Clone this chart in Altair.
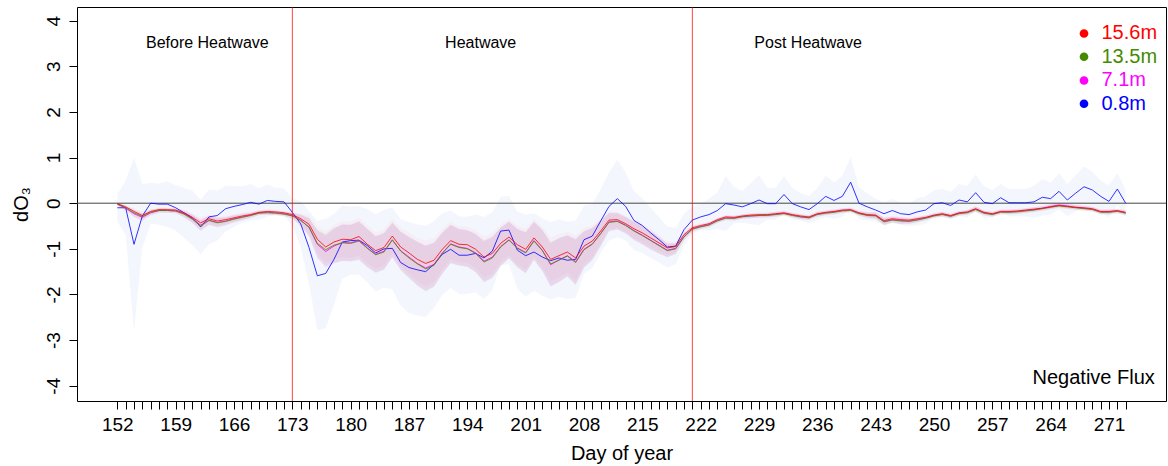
import altair as alt
import pandas as pd

days = list(range(152, 274))

# 15.6m
v156 = [-0.01, -0.08, -0.18, -0.27, -0.18, -0.14, -0.14, -0.15, -0.21, -0.31,
        -0.43, -0.34, -0.39, -0.36, -0.32, -0.28, -0.25, -0.20, -0.18, -0.19,
        -0.21, -0.25, -0.34, -0.46, -0.79, -0.96, -0.85, -0.79, -0.80, -0.73,
        -0.90, -1.04, -0.97, -0.72, -0.96, -1.09, -1.23, -1.32, -1.25, -1.01,
        -0.82, -0.90, -0.91, -1.01, -1.18, -1.10, -0.88, -0.74, -0.91, -1.01,
        -0.76, -0.96, -1.23, -1.15, -1.07, -1.20, -0.94, -0.83, -0.61, -0.37,
        -0.36, -0.45, -0.56, -0.65, -0.76, -0.87, -0.98, -0.95, -0.69, -0.54,
        -0.49, -0.45, -0.36, -0.30, -0.31, -0.28, -0.26, -0.25, -0.25, -0.23,
        -0.21, -0.25, -0.28, -0.30, -0.23, -0.20, -0.18, -0.15, -0.14, -0.21,
        -0.25, -0.26, -0.38, -0.34, -0.36, -0.37, -0.34, -0.31, -0.26, -0.23,
        -0.27, -0.21, -0.19, -0.12, -0.20, -0.23, -0.18, -0.18, -0.17, -0.15,
        -0.13, -0.11, -0.08, -0.05, -0.07, -0.09, -0.10, -0.12, -0.18, -0.18,
        -0.16, -0.20]
# 13.5m
v135 = [-0.02, -0.10, -0.21, -0.29, -0.20, -0.16, -0.16, -0.17, -0.24, -0.35,
        -0.50, -0.38, -0.43, -0.40, -0.35, -0.31, -0.27, -0.22, -0.21, -0.22,
        -0.24, -0.28, -0.38, -0.52, -0.88, -1.02, -0.92, -0.87, -0.88, -0.83,
        -0.99, -1.13, -1.07, -0.80, -1.05, -1.20, -1.33, -1.44, -1.36, -1.10,
        -0.90, -0.97, -1.00, -1.10, -1.29, -1.20, -0.96, -0.81, -0.99, -1.09,
        -0.83, -1.04, -1.33, -1.25, -1.16, -1.30, -1.02, -0.90, -0.67, -0.42,
        -0.40, -0.49, -0.61, -0.71, -0.82, -0.93, -1.04, -1.00, -0.74, -0.57,
        -0.52, -0.48, -0.39, -0.33, -0.33, -0.30, -0.28, -0.27, -0.27, -0.25,
        -0.23, -0.27, -0.30, -0.32, -0.25, -0.22, -0.20, -0.17, -0.16, -0.23,
        -0.27, -0.28, -0.41, -0.37, -0.39, -0.40, -0.37, -0.33, -0.28, -0.25,
        -0.29, -0.23, -0.21, -0.14, -0.22, -0.25, -0.20, -0.20, -0.19, -0.17,
        -0.15, -0.12, -0.09, -0.06, -0.08, -0.10, -0.12, -0.14, -0.20, -0.20,
        -0.18, -0.22]
# 7.1m
v71 = [-0.02, -0.11, -0.23, -0.31, -0.21, -0.16, -0.16, -0.17, -0.23, -0.34,
       -0.48, -0.37, -0.42, -0.39, -0.34, -0.30, -0.26, -0.21, -0.20, -0.21,
       -0.23, -0.27, -0.37, -0.53, -0.90, -1.06, -0.94, -0.86, -0.87, -0.81,
       -0.98, -1.12, -1.05, -0.81, -1.04, -1.18, -1.32, -1.42, -1.34, -1.09,
       -0.89, -0.96, -0.99, -1.09, -1.27, -1.18, -0.95, -0.80, -0.98, -1.08,
       -0.82, -1.03, -1.35, -1.24, -1.15, -1.28, -1.01, -0.89, -0.66, -0.41,
       -0.39, -0.48, -0.60, -0.70, -0.81, -0.92, -1.03, -0.99, -0.73, -0.56,
       -0.51, -0.47, -0.38, -0.32, -0.33, -0.29, -0.28, -0.27, -0.26, -0.24,
       -0.22, -0.26, -0.30, -0.32, -0.24, -0.21, -0.19, -0.16, -0.15, -0.22,
       -0.26, -0.27, -0.40, -0.36, -0.38, -0.39, -0.36, -0.32, -0.27, -0.24,
       -0.28, -0.22, -0.20, -0.13, -0.21, -0.24, -0.19, -0.19, -0.18, -0.16,
       -0.14, -0.11, -0.07, -0.04, -0.06, -0.09, -0.11, -0.13, -0.19, -0.19,
       -0.17, -0.21]
# 0.8m
v08 = [-0.10, -0.10, -0.90, -0.28, 0.00, -0.02, -0.02, -0.10, -0.21, -0.32,
       -0.52, -0.30, -0.27, -0.12, -0.07, -0.03, 0.02, -0.02, 0.06, 0.04,
       0.03, -0.20, -0.45, -0.97, -1.59, -1.54, -1.23, -0.85, -0.82, -0.81,
       -0.93, -1.09, -1.00, -0.99, -1.30, -1.41, -1.46, -1.50, -1.34, -1.12,
       -1.01, -1.14, -1.14, -1.10, -1.20, -1.05, -0.61, -0.59, -1.03, -1.15,
       -1.07, -1.18, -1.26, -1.20, -1.25, -1.23, -0.80, -0.72, -0.39, -0.07,
       0.10, -0.07, -0.38, -0.49, -0.65, -0.80, -0.96, -0.94, -0.58, -0.37,
       -0.30, -0.25, -0.16, -0.01, -0.04, -0.08, -0.01, 0.07, -0.01, -0.01,
       0.19, -0.01, -0.08, -0.14, -0.01, 0.15, 0.06, 0.15, 0.46, 0.00,
       -0.08, -0.15, -0.23, -0.16, -0.23, -0.25, -0.19, -0.15, -0.01, 0.01,
       -0.05, 0.07, 0.03, 0.23, 0.02, -0.01, 0.12, 0.01, 0.01, 0.01,
       0.03, 0.13, 0.10, 0.26, 0.07, 0.22, 0.36, 0.29, 0.15, 0.04,
       0.31, 0.00]

# half-width of the shaded uncertainty bands
spread_deep = [0.03, 0.05, 0.08, 0.08, 0.06, 0.05, 0.05, 0.05, 0.07, 0.09,
               0.12, 0.10, 0.10, 0.09, 0.08, 0.07, 0.06, 0.05, 0.05, 0.05,
               0.05, 0.06, 0.12, 0.20, 0.30, 0.35, 0.38, 0.40, 0.40, 0.42,
               0.42, 0.40, 0.40, 0.38, 0.42, 0.45, 0.48, 0.50, 0.48, 0.45,
               0.42, 0.40, 0.40, 0.42, 0.45, 0.45, 0.42, 0.40, 0.42, 0.45,
               0.42, 0.45, 0.48, 0.48, 0.45, 0.50, 0.40, 0.35, 0.28, 0.20,
               0.18, 0.18, 0.20, 0.20, 0.20, 0.18, 0.15, 0.12, 0.08, 0.06,
               0.05, 0.05, 0.05, 0.05, 0.05, 0.05, 0.05, 0.05, 0.05, 0.05,
               0.05, 0.05, 0.05, 0.05, 0.05, 0.05, 0.05, 0.05, 0.05, 0.05,
               0.06, 0.07, 0.08, 0.07, 0.07, 0.06, 0.06, 0.05, 0.05, 0.05,
               0.05, 0.05, 0.05, 0.06, 0.05, 0.05, 0.05, 0.05, 0.05, 0.05,
               0.05, 0.05, 0.05, 0.05, 0.05, 0.05, 0.05, 0.05, 0.05, 0.05,
               0.05, 0.05]
spread_surface = [0.30, 0.60, 1.90, 0.70, 0.45, 0.45, 0.50, 0.50, 0.55, 0.60,
                  0.60, 0.60, 0.55, 0.50, 0.45, 0.40, 0.40, 0.35, 0.35, 0.30,
                  0.30, 0.30, 0.50, 0.80, 1.20, 1.20, 1.00, 0.80, 0.75, 0.75,
                  0.80, 0.85, 0.85, 0.90, 0.95, 1.00, 1.00, 1.00, 0.95, 0.90,
                  0.85, 0.85, 0.85, 0.85, 0.90, 0.85, 0.75, 0.75, 0.85, 0.90,
                  0.85, 0.85, 0.85, 0.85, 0.85, 0.85, 0.75, 0.70, 0.70, 0.75,
                  0.85, 0.75, 0.65, 0.60, 0.55, 0.50, 0.45, 0.40, 0.35, 0.30,
                  0.30, 0.35, 0.40, 0.60, 0.40, 0.35, 0.45, 0.55, 0.35, 0.35,
                  0.40, 0.35, 0.30, 0.30, 0.35, 0.45, 0.40, 0.45, 0.55, 0.35,
                  0.30, 0.25, 0.25, 0.25, 0.25, 0.25, 0.30, 0.30, 0.30, 0.30,
                  0.30, 0.35, 0.35, 0.40, 0.35, 0.30, 0.30, 0.30, 0.30, 0.30,
                  0.35, 0.40, 0.35, 0.40, 0.35, 0.40, 0.45, 0.40, 0.35, 0.35,
                  0.35, 0.30]

series_names = ["15.6m", "13.5m", "7.1m", "0.8m"]
series_colors = ["#ff0000", "#458b00", "#ff00ff", "#0000ff"]
deep_names = ["15.6m", "13.5m", "7.1m"]
deep_band_colors = ["#ff0000", "#458b00", "#ff00ff"]
deep_band_opacity = [0.03, 0.10, 0.10]
surface_band_color = "#f3f7fd"

# key (legend) placement in data units, top-right corner of the panel
key_symbol_x = 268.0
key_label_x = 270.1
key_row_y = [3.72, 3.21, 2.69, 2.18]

period_breaks = [173, 221]
period_labels = ["Before Heatwave", "Heatwave", "Post Heatwave"]
period_label_x = [162.8, 195.6, 234.9]
period_label_y = [3.51, 3.51, 3.51]
panel_label = ["Negative Flux"]
panel_label_x = [276.5]
panel_label_y = [-3.83]

x_labelled = list(range(152, 274, 7))

for arr in (v156, v135, v71, v08, spread_deep, spread_surface):
    assert len(arr) == len(days), len(arr)

# long table (surface first so the deepest sensor is drawn on top)
series_values = {"0.8m": v08, "7.1m": v71, "13.5m": v135, "15.6m": v156}
series_spread = {"0.8m": spread_surface, "7.1m": spread_deep,
                 "13.5m": spread_deep, "15.6m": spread_deep}
rows = []
for name in ["0.8m", "7.1m", "13.5m", "15.6m"]:
    for d, v, s in zip(days, series_values[name], series_spread[name]):
        rows.append({"day": d, "series": name, "value": v,
                     "lo": v - s, "hi": v + s})
df = pd.DataFrame(rows)

key_df = pd.DataFrame({
    "series": series_names,
    "sx": [key_symbol_x] * len(series_names),
    "lx": [key_label_x] * len(series_names),
    "y": key_row_y,
})

FONT = "Liberation Sans"

x_scale = alt.Scale(domain=[147.16, 277.84], nice=False, zero=False)
y_scale = alt.Scale(domain=[-4.335, 4.30], nice=False, zero=False)
color_scale = alt.Scale(domain=series_names, range=series_colors)

x_axis = alt.Axis(
    values=days, tickCount=400,
    labelExpr="indexof(" + str(x_labelled) + ", datum.value) >= 0 ? '' + datum.value : ''",
    labelOverlap=False, labelFlush=False, tickSize=8, labelPadding=6,
    labelFontSize=19, labelColor="black", tickColor="black",
    title="Day of year", titleFontSize=20, titleFontWeight="normal",
    titleColor="black", titleY=58, titleBaseline="alphabetic",
    grid=False, domain=False)
y_axis = alt.Axis(
    values=list(range(-4, 5)), labelExpr="'' + datum.value",
    labelAngle=-90, labelAlign="center", labelBaseline="alphabetic",
    labelPadding=10, tickSize=8, labelFontSize=19, labelColor="black",
    tickColor="black",
    title="dO₃", titleFontSize=20, titleFontWeight="normal",
    titleColor="black", titleX=-56, titleY=197, titleAngle=270,
    titleAlign="center", titleBaseline="middle",
    grid=False, domain=False)

surface_band = alt.Chart(df).transform_filter(
    "datum.series == '0.8m'").mark_area(
    strokeWidth=0, color=surface_band_color, opacity=1).encode(
    x=alt.X("day:Q", scale=x_scale, axis=x_axis),
    y=alt.Y("lo:Q", scale=y_scale, axis=y_axis),
    y2="hi:Q",
)

deep_bands = alt.Chart(df).transform_filter(
    "datum.series != '0.8m'").mark_area(strokeWidth=0).encode(
    x=alt.X("day:Q", scale=x_scale),
    y=alt.Y("lo:Q", scale=y_scale),
    y2="hi:Q",
    fill=alt.Fill("series:N",
                  scale=alt.Scale(domain=deep_names, range=deep_band_colors),
                  legend=None),
    fillOpacity=alt.FillOpacity("series:N",
                                scale=alt.Scale(domain=deep_names, range=deep_band_opacity),
                                legend=None),
)

zero_line = alt.Chart(pd.DataFrame({"value": [0]})).mark_rule(
    color="#444444", strokeWidth=1).encode(y=alt.Y("value:Q", scale=y_scale))

lines = alt.Chart(df).mark_line(strokeWidth=1, opacity=0.8).encode(
    x=alt.X("day:Q", scale=x_scale),
    y=alt.Y("value:Q", scale=y_scale),
    color=alt.Color("series:N", scale=color_scale, legend=None),
)

breaks = alt.Chart(pd.DataFrame({"day": period_breaks})).mark_rule(
    color="#ff0000", strokeWidth=1, opacity=0.75).encode(
    x=alt.X("day:Q", scale=x_scale))

key_points = alt.Chart(key_df).mark_point(
    filled=True, size=75, opacity=1, shape="circle").encode(
    x=alt.X("sx:Q", scale=x_scale),
    y=alt.Y("y:Q", scale=y_scale),
    color=alt.Color("series:N", scale=color_scale, legend=None),
)
key_labels = alt.Chart(key_df).mark_text(
    fontSize=20, font=FONT, align="left", baseline="middle").encode(
    x=alt.X("lx:Q", scale=x_scale),
    y=alt.Y("y:Q", scale=y_scale),
    text="series:N",
    color=alt.Color("series:N", scale=color_scale, legend=None),
)

period_text = alt.Chart(pd.DataFrame({
    "x": period_label_x, "y": period_label_y, "t": period_labels})).mark_text(
    fontSize=16, font=FONT, color="black", align="center", baseline="middle").encode(
    x=alt.X("x:Q", scale=x_scale), y=alt.Y("y:Q", scale=y_scale), text="t:N")

flux_text = alt.Chart(pd.DataFrame({
    "x": panel_label_x, "y": panel_label_y, "t": panel_label})).mark_text(
    fontSize=20, font=FONT, color="black", align="right", baseline="middle").encode(
    x=alt.X("x:Q", scale=x_scale), y=alt.Y("y:Q", scale=y_scale), text="t:N")

chart = alt.layer(
    surface_band, deep_bands, zero_line, lines, breaks, key_points, key_labels,
    period_text, flux_text
).properties(
    width=1089, height=394,
    autosize=alt.AutoSizeParams(type="none"),
    padding={"left": 77, "top": 7, "right": 2, "bottom": 65},
).configure(font=FONT).configure_view(
    stroke="black", strokeWidth=1
)

chart.save("out.html", embed_options={"renderer": "svg", "actions": False})
